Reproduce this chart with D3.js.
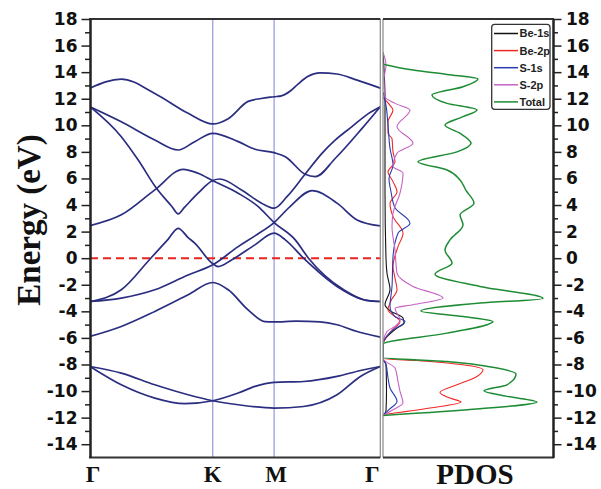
<!DOCTYPE html>
<html>
<head>
<meta charset="utf-8">
<script src="https://cdn.jsdelivr.net/npm/d3@7"></script>
<style>
  body { margin: 0; background: #fff; }
  .tick text { font-family: "DejaVu Sans", sans-serif; font-weight: bold; font-size: 17px; fill: #111; }
</style>
</head>
<body>
<svg id="fig" width="601" height="489"></svg>
<script>
const svg = d3.select("#fig");

// high symmetry points along the path
const kPoints = [0, 0.667, 1.0, 1.577];
const kLabels = ["Γ", "K", "M", "Γ"];
const energyTicks = d3.range(-14, 19, 2);

// bands: [k, energy in eV]
const band1 = [[0,12.8],[0.170,13.48],[0.352,12.4],[0.533,10.9],[0.667,10.1],[0.751,10.5],[0.859,11.8],[0.93,12.02],[1.0,12.15],[1.04,12.22],[1.09,12.6],[1.13,13.1],[1.18,13.65],[1.251,13.95],[1.342,13.86],[1.451,13.4],[1.577,12.8]];
const band2 = [[0,11.4],[0.170,10.27],[0.352,8.9],[0.479,8.14],[0.569,8.77],[0.667,9.4],[0.805,8.77],[0.896,8.2],[1.0,7.94],[1.061,7.64],[1.169,6.31],[1.224,6.14],[1.333,7.52],[1.478,9.77],[1.577,11.4]];
const band3 = [[0,11.4],[0.170,9.14],[0.261,7.4],[0.361,5.26],[0.445,3.89],[0.479,3.33],[0.513,3.82],[0.587,4.89],[0.667,5.85],[0.705,5.96],[0.823,5.13],[0.932,4.14],[1.0,3.76],[1.070,4.63],[1.169,6.33],[1.260,7.89],[1.333,8.9],[1.423,9.9],[1.514,10.9],[1.577,11.4]];
const band4 = [[0,2.45],[0.170,3.26],[0.352,5.14],[0.506,6.69],[0.587,6.39],[0.667,5.83],[0.805,4.89],[0.914,3.88],[1.0,2.68],[1.115,1.38],[1.187,0],[1.378,-2.38],[1.505,-3.19],[1.577,-3.26]];
const band5 = [[0,-3.26],[0.170,-3.0],[0.352,-2.38],[0.533,-1.26],[0.667,-0.5],[0.805,0.87],[0.896,1.68],[1.0,2.68],[1.088,3.9],[1.206,5.08],[1.342,4.14],[1.451,2.88],[1.577,2.43]];
const band6 = [[0,-3.26],[0.170,-2.38],[0.325,-0.08],[0.424,1.42],[0.479,2.25],[0.533,1.55],[0.569,1.13],[0.667,-0.42],[0.696,-0.63],[0.769,-0.13],[0.896,1.0],[1.0,1.88],[1.061,1.38],[1.160,0],[1.342,-2.13],[1.487,-3.13],[1.577,-3.26]];
const band7 = [[0,-5.89],[0.170,-5.14],[0.352,-4.01],[0.533,-2.76],[0.667,-1.83],[0.751,-2.38],[0.859,-3.89],[0.950,-4.77],[1.0,-4.8],[1.12,-4.74],[1.25,-4.8],[1.342,-5.01],[1.451,-5.52],[1.577,-5.94]];
const band8 = [[0,-8.15],[0.170,-8.65],[0.352,-9.53],[0.533,-10.28],[0.667,-10.73],[0.805,-11.03],[1.0,-11.28],[1.160,-11.16],[1.342,-10.28],[1.469,-8.9],[1.577,-8.15]];
const band9 = [[0,-8.15],[0.170,-9.53],[0.352,-10.53],[0.515,-10.95],[0.667,-10.73],[0.805,-10.15],[0.896,-9.65],[1.0,-9.35],[1.160,-9.28],[1.342,-8.9],[1.469,-8.45],[1.577,-8.15]];
const bands = [band1, band2, band3, band4, band5, band6, band7, band8, band9];

// PDOS: [energy in eV, states]
const dosBe1s = [[15.5,0],[12,0.2],[5,0.2],[0,0.3],[-1.13,0.4],[-2.38,0.7],[-3.5,0.2],[-4.0,0.8],[-4.5,2.0],[-4.9,2.1],[-5.26,1.4],[-6.47,0],[-7.55,0],[-8.0,0.3],[-10,0.35],[-11.5,0.3],[-11.83,0]];
const dosBe2p = [[12.1,0],[11.5,0.7],[11.15,1.0],[10.27,0.5],[9.4,0.5],[9.0,0.9],[8.0,1.0],[7.26,1.2],[6.5,0.5],[5.76,1.0],[5.0,1.4],[4.13,0.7],[3.13,1.0],[1.88,2.0],[0.87,1.5],[-0.63,1.0],[-1.5,1.2],[-2.38,1.4],[-3.2,0.8],[-3.89,0.5],[-4.77,1.7],[-5.5,0.8],[-6.47,0],[-7.55,0],[-7.77,4.7],[-8.02,8.0],[-8.4,10.0],[-8.9,9.4],[-9.53,7.4],[-10.1,5.7],[-10.53,6.7],[-10.83,7.8],[-11.28,4.7],[-11.78,0]];
const dosS1s = [[12.5,0],[11.5,0.3],[10.0,0.5],[8.27,0.7],[7.0,1.0],[6.0,0.6],[5.0,0.8],[3.8,1.2],[2.63,2.7],[1.88,1.5],[0.12,1.0],[-2.13,0.9],[-3.64,0.7],[-4.4,1.2],[-4.77,2.2],[-5.4,1.0],[-6.47,0],[-7.55,0],[-8.0,0.3],[-9.0,0.5],[-9.77,0.7],[-10.78,1.4],[-11.4,0.6],[-11.83,0]];
const dosS2p = [[15.5,0],[14.5,0.3],[13.5,0.1],[12.15,0.2],[11.65,1.2],[11.15,2.7],[9.9,1.4],[8.65,3.0],[7.9,1.4],[6.9,1.0],[6.4,2.0],[4.9,1.7],[3.38,1.0],[2.38,0.9],[0.62,1.2],[-1.13,1.4],[-2.13,3.0],[-3.0,6.0],[-3.5,3.0],[-3.76,1.2],[-4.64,1.7],[-5.14,1.2],[-5.52,0.4],[-6.47,0],[-7.55,0],[-8.27,1.2],[-9.28,1.5],[-10.03,1.7],[-10.9,2.0],[-11.4,1.0],[-11.83,0]];
const dosTotal = [[14.6,0],[14.16,3.0],[13.83,6.4],[13.48,9.5],[12.9,8.0],[12.28,4.9],[11.65,6.4],[11.15,9.4],[10.65,8.0],[10.02,6.2],[9.4,7.7],[8.65,8.8],[8.0,7.4],[7.26,3.5],[6.64,6.4],[5.89,7.7],[5.1,8.3],[4.13,9.1],[3.26,7.7],[2.5,8.0],[1.38,6.7],[0.62,6.2],[-0.38,6.9],[-1.2,5.2],[-2.13,9.7],[-3.03,16.0],[-3.38,9.7],[-3.97,3.8],[-4.39,8.0],[-4.77,11.0],[-5.01,10.4],[-5.64,6.4],[-6.47,0],[-7.47,0],[-7.77,6.4],[-8.27,11.4],[-8.72,13.3],[-9.53,12.4],[-9.98,10.1],[-10.4,12.4],[-10.83,15.4],[-11.33,9.7],[-11.83,0]];

const pdosNames = ["Be-1s", "Be-2p", "S-1s", "S-2p", "Total"];
const pdosSeries = [dosBe1s, dosBe2p, dosS1s, dosS2p, dosTotal];
const pdosColors = ["#111111", "#f02828", "#2a3cb0", "#c462c4", "#1e8c34"];

const y = d3.scaleLinear().domain([-15, 18]).range([457.5, 19]);
const xk = d3.scaleLinear().domain([0, 1.577]).range([90, 380.3]);
const xd = d3.scaleLinear().domain([0, 17]).range([383, 553]);

svg.append("clipPath").attr("id", "clipBand")
  .append("rect").attr("x", 90).attr("y", 19).attr("width", 290.3).attr("height", 438.5);
svg.append("clipPath").attr("id", "clipDos")
  .append("rect").attr("x", 383).attr("y", 19).attr("width", 170).attr("height", 438.5);

// vertical lines at K and M
svg.selectAll("line.kline")
  .data(kPoints.slice(1, 3))
  .enter().append("line")
  .attr("x1", d => xk(d)).attr("x2", d => xk(d))
  .attr("y1", y(18)).attr("y2", y(-15))
  .attr("stroke", "#7f82d6").attr("stroke-width", 1);

// Fermi level
svg.append("line")
  .attr("x1", xk(0)).attr("x2", xk(1.577))
  .attr("y1", y(0)).attr("y2", y(0))
  .attr("stroke", "#e8261f").attr("stroke-width", 2)
  .attr("stroke-dasharray", "8,5");

const bandLine = d3.line()
  .x(d => xk(d[0])).y(d => y(d[1]))
  .curve(d3.curveMonotoneX);

svg.append("g").attr("clip-path", "url(#clipBand)")
  .selectAll("path").data(bands).enter().append("path")
  .attr("d", bandLine)
  .attr("fill", "none")
  .attr("stroke", "#2b2e80")
  .attr("stroke-width", 1.7);

const dosLine = d3.line()
  .x(d => xd(d[1])).y(d => y(d[0]))
  .curve(d3.curveMonotoneY);

svg.append("g").attr("clip-path", "url(#clipDos)")
  .selectAll("path").data(pdosSeries).enter().append("path")
  .attr("d", d => dosLine(d.slice().sort((a, b) => a[0] - b[0])))
  .attr("fill", "none")
  .attr("stroke", (d, i) => pdosColors[i])
  .attr("stroke-width", (d, i) => i === 4 ? 1.5 : 1.1);

// frames
svg.append("line").attr("x1", 380.3).attr("x2", 380.3).attr("y1", 19).attr("y2", 457.5)
  .attr("stroke", "#888").attr("stroke-width", 1.2);
svg.append("line").attr("x1", 383).attr("x2", 383).attr("y1", 19).attr("y2", 457.5)
  .attr("stroke", "#888").attr("stroke-width", 1.2);
[19, 457.5].forEach(v => {
  svg.append("line").attr("x1", 89).attr("x2", 380.3).attr("y1", v).attr("y2", v)
    .attr("stroke", "#333").attr("stroke-width", 2);
  svg.append("line").attr("x1", 383).attr("x2", 554).attr("y1", v).attr("y2", v)
    .attr("stroke", "#333").attr("stroke-width", 2);
});

// axes
const tickText = d => d.toString();
svg.append("g").attr("transform", "translate(90,0)")
  .call(d3.axisLeft(y).tickValues(energyTicks).tickSize(8.5).tickSizeOuter(0).tickPadding(4).tickFormat(tickText));
svg.append("g").attr("transform", "translate(90,0)")
  .call(d3.axisLeft(y).tickValues(d3.range(-13, 18, 2)).tickSize(5).tickSizeOuter(0).tickFormat(""));
svg.append("g").attr("transform", "translate(553,0)")
  .call(d3.axisRight(y).tickValues(energyTicks).tickSize(8.5).tickSizeOuter(0).tickPadding(4.5).tickFormat(tickText));
svg.append("g").attr("transform", "translate(553,0)")
  .call(d3.axisRight(y).tickValues(d3.range(-13, 18, 2)).tickSize(5).tickSizeOuter(0).tickFormat(""));
svg.selectAll(".domain").attr("stroke", "#222").attr("stroke-width", 2);
svg.selectAll(".tick line").attr("stroke", "#222").attr("stroke-width", 1.5);

// k labels
const kLabelShift = [3, 0, 2, -8];
svg.selectAll("text.klabel")
  .data(kPoints).enter().append("text")
  .attr("x", (d, i) => xk(d) + kLabelShift[i])
  .attr("y", 482)
  .attr("text-anchor", "middle")
  .attr("font-family", "'Liberation Serif', serif")
  .attr("font-weight", "bold")
  .attr("font-size", 23)
  .attr("fill", "#111")
  .text((d, i) => kLabels[i]);

svg.append("text")
  .attr("x", 475).attr("y", 484)
  .attr("text-anchor", "middle")
  .attr("font-family", "'Liberation Serif', serif")
  .attr("font-weight", "bold")
  .attr("font-size", 29)
  .attr("fill", "#111")
  .text("PDOS");

svg.append("text")
  .attr("transform", "translate(40,220) rotate(-90)")
  .attr("text-anchor", "middle")
  .attr("font-family", "'Liberation Serif', serif")
  .attr("font-weight", "bold")
  .attr("font-size", 33)
  .attr("fill", "#111")
  .text("Energy (eV)");

// legend
const legend = svg.append("g");
legend.append("rect")
  .attr("x", 491.7).attr("y", 24.3).attr("width", 58.3).attr("height", 85)
  .attr("rx", 3).attr("fill", "#fff").attr("stroke", "#333").attr("stroke-width", 1.3);
const rows = legend.selectAll("g.row").data(pdosNames).enter().append("g")
  .attr("transform", (d, i) => `translate(0,${33.5 + i * 17.1})`);
rows.append("line")
  .attr("x1", 494).attr("x2", 518).attr("y1", 0).attr("y2", 0)
  .attr("stroke", (d, i) => pdosColors[i]).attr("stroke-width", 1.5);
rows.append("text")
  .attr("x", 519.5).attr("y", 0).attr("dy", "0.36em")
  .attr("font-family", "'Liberation Sans', Arial, sans-serif")
  .attr("font-weight", "bold")
  .attr("font-size", 11)
  .attr("fill", "#222")
  .text(d => d);
</script>
</body>
</html>
